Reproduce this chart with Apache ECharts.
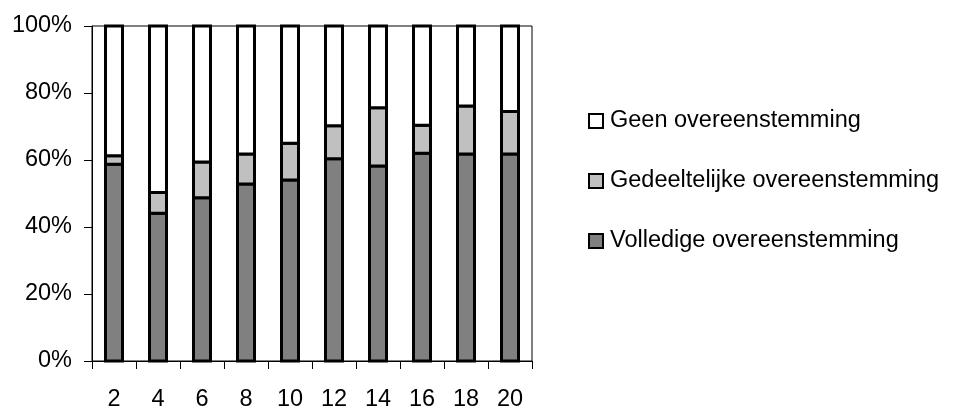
<!DOCTYPE html>
<html>
<head>
<meta charset="utf-8">
<script src="https://cdn.jsdelivr.net/npm/echarts@6/dist/echarts.min.js"></script>
<style>
html,body{margin:0;padding:0;background:#fff;}
#chart{width:959px;height:412px;}
</style>
</head>
<body>
<div id="chart"></div>
<script>
const categories = ['2','4','6','8','10','12','14','16','18','20'];
const volledige = [58.7, 44.1, 48.7, 52.8, 54.0, 60.4, 58.2, 62.0, 61.8, 61.8];
const gedeeltelijke = [2.6, 6.2, 10.7, 9.0, 11.0, 9.8, 17.4, 8.4, 14.3, 12.7];
const geen = [38.7, 49.7, 40.6, 38.2, 35.0, 29.8, 24.4, 29.6, 23.9, 25.5];
const yTicks = [0, 20, 40, 60, 80, 100];
const seriesNames = ['Volledige overeenstemming', 'Gedeeltelijke overeenstemming', 'Geen overeenstemming'];
const seriesColors = ['#808080', '#c0c0c0', '#ffffff'];

const FONT = 'Liberation Sans, Arial, sans-serif';
const FS = 23.5;
const BAR_W = 17;
const BORDER = 3;

const stackValues = [volledige, gedeeltelijke, geen];

function stackedData(k) {
  return categories.map(function (c, i) {
    let base = 0;
    for (let j = 0; j < k; j++) base += stackValues[j][i];
    return [i, stackValues[k][i], base];
  });
}

function stackedSeries(k) {
  const color = seriesColors[k];
  return {
    name: seriesNames[k],
    type: 'custom',
    data: stackedData(k),
    encode: { x: 0, y: 2 },
    itemStyle: { color: color },
    emphasis: { disabled: true },
    renderItem: function (params, api) {
      const i = api.value(0);
      const v = api.value(1);
      const base = api.value(2);
      const p0 = api.coord([i, base]);
      const p1 = api.coord([i, base + v]);
      return {
        type: 'rect',
        shape: { x: p0[0] - BAR_W / 2, y: p1[1], width: BAR_W, height: p0[1] - p1[1] },
        style: { fill: color, stroke: '#000', lineWidth: BORDER }
      };
    }
  };
}

const chart = echarts.init(document.getElementById('chart'), null, { renderer: 'canvas' });
chart.setOption({
  animation: false,
  backgroundColor: '#fff',
  textStyle: { fontFamily: FONT, color: '#000' },
  grid: {
    left: 92, right: 427, top: 26, bottom: 48,
    show: true, borderColor: '#000', borderWidth: 1, backgroundColor: 'transparent'
  },
  legend: {
    orient: 'vertical',
    left: 583,
    top: 104,
    itemWidth: 14,
    itemHeight: 14,
    itemGap: 36,
    data: [seriesNames[2], seriesNames[1], seriesNames[0]],
    icon: 'rect',
    textStyle: { fontFamily: FONT, fontSize: FS, color: '#000', padding: [0, 0, 0, 2] },
    itemStyle: { borderColor: '#000', borderWidth: 2 },
    selectedMode: false
  },
  xAxis: {
    type: 'category',
    data: categories,
    boundaryGap: true,
    axisLine: { lineStyle: { color: '#000', width: 1 } },
    axisTick: { show: true, inside: false, length: 8, lineStyle: { color: '#000' } },
    axisLabel: { color: '#000', fontFamily: FONT, fontSize: FS, margin: 27 },
    splitLine: { show: false }
  },
  yAxis: {
    type: 'value',
    min: yTicks[0],
    max: yTicks[yTicks.length - 1],
    interval: yTicks[1] - yTicks[0],
    axisLine: { show: true, lineStyle: { color: '#000', width: 1 } },
    axisTick: { show: true, inside: false, length: 8, lineStyle: { color: '#000' } },
    axisLabel: { color: '#000', fontFamily: FONT, fontSize: FS, margin: 20, formatter: '{value}%' },
    splitLine: { show: false }
  },
  series: [stackedSeries(0), stackedSeries(1), stackedSeries(2)]
});
</script>
</body>
</html>
